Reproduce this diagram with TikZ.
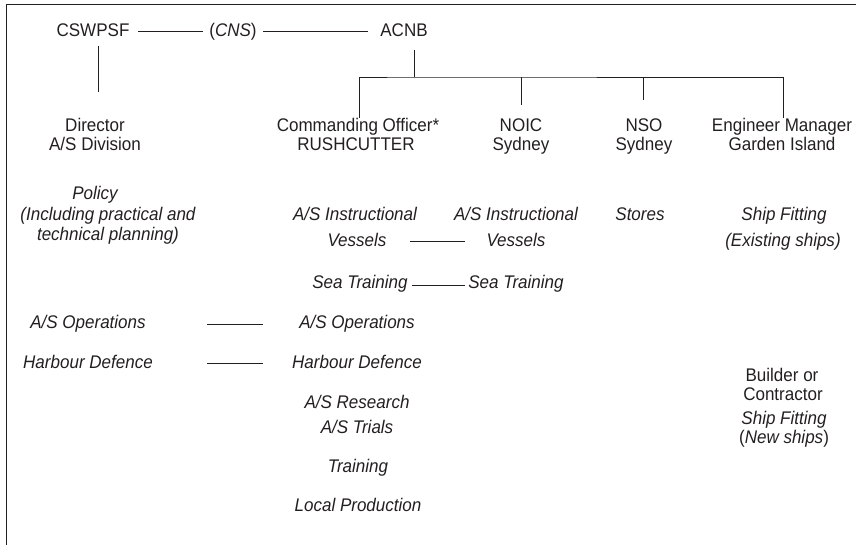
\documentclass[tikz,border=0pt]{standalone}
\usepackage{fontspec}
\setmainfont{Liberation Sans}[FakeStretch=0.93]
\definecolor{ink}{RGB}{35,31,32}
\begin{document}
\begin{tikzpicture}[x=1pt,y=-1pt,
  lbl/.style={inner sep=0pt, anchor=base, text=ink,
    font=\fontsize{18.3}{21}\selectfont},
  role/.style={lbl},
  duty/.style={lbl, font=\fontsize{18.3}{21}\selectfont\itshape},
  link/.style={draw=ink, line width=0.8pt}]
\useasboundingbox (0,0) rectangle (856,545);

% page frame (left and top rules)
\draw[link] (6.5,545) -- (6.5,4.5) -- (856,4.5);

% top line of command
\node[role] (cswpsf) at (93,36.5) {CSWPSF};
\node[role] (cns)    at (233,36.5) {(\textit{CNS})};
\node[role] (acnb)   at (404,36.5) {ACNB};

% second level
\node[role] (director)  at (95,131.3) {Director};
\node[role] (directorb) at (95,150.3) {A/S Division};
\node[role] (co)   at (358,131.3) {Commanding Officer*};
\node[role] (cob)  at (356,150.3) {RUSHCUTTER};
\node[role] (noic) at (521,131.3) {NOIC};
\node[role] (noicb) at (521,150.3) {Sydney};
\node[role] (nso)  at (644,131.3) {NSO};
\node[role] (nsob) at (644,150.3) {Sydney};
\node[role] (eng)  at (782,131.3) {Engineer Manager};
\node[role] (engb) at (782,150.3) {Garden Island};

% duties of the A/S Division
\node[duty] (policy) at (95,199.3) {Policy};
\node[duty] (plan)   at (108,220.3) {(Including practical and};
\node[duty] (planb)  at (108,240.3) {technical planning)};
\node[duty] (ops1)   at (88,328.3) {A/S Operations};
\node[duty] (hd1)    at (88,368.3) {Harbour Defence};

% duties under RUSHCUTTER
\node[duty] (inst1)  at (355,220.3) {A/S Instructional};
\node[duty] (vess1)  at (357,246.3) {Vessels};
\node[duty] (sea1)   at (360,288.3) {Sea Training};
\node[duty] (ops2)   at (357,328.3) {A/S Operations};
\node[duty] (hd2)    at (357,368.3) {Harbour Defence};
\node[duty] (res)    at (357,408.3) {A/S Research};
\node[duty] (trials) at (357,433.3) {A/S Trials};
\node[duty] (train)  at (358,472.3) {Training};
\node[duty] (local)  at (358,511.3) {Local Production};

% duties under NOIC and NSO
\node[duty] (inst2)  at (516,220.3) {A/S Instructional};
\node[duty] (vess2)  at (516,246.3) {Vessels};
\node[duty] (sea2)   at (516,288.3) {Sea Training};
\node[duty] (stores) at (640,220.3) {Stores};

% ship fitting
\node[duty] (fit)    at (784,220.3) {Ship Fitting};
\node[duty] (fitb)   at (783,246.3) {(Existing ships)};
\node[role] (build)  at (782,381.3) {Builder or};
\node[role] (buildb) at (783,400.3) {Contractor};
\node[duty] (fitn)   at (784,424.3) {Ship Fitting};
\node[role] (fitnb)  at (784,443.3) {(\textit{New ships})};

% horizontal links
\draw[link, shorten <=45pt, shorten >=30pt]
  ([yshift=5.3pt]cswpsf.base) -- ([yshift=5.3pt]cns.base);
\draw[link, shorten <=30pt, shorten >=36pt]
  ([yshift=5.3pt]cns.base) -- ([yshift=5.3pt]acnb.base);
\draw[link, shorten <=53pt, shorten >=51pt]
  ([yshift=5pt]vess1.base) -- ([yshift=5pt]vess2.base);
\draw[link, shorten <=52pt, shorten >=51pt]
  ([yshift=3.3pt]sea1.base) -- ([yshift=3.3pt]sea2.base);
\draw[link, shorten <=119pt, shorten >=94pt]
  ([yshift=4.3pt]ops1.base) -- ([yshift=4.3pt]ops2.base);
\draw[link, shorten <=119pt, shorten >=94pt]
  ([yshift=5.3pt]hd1.base) -- ([yshift=5.3pt]hd2.base);

% CSWPSF to Director
\coordinate (cdrop) at (98,46);
\draw[link, shorten >=25.5pt] (cdrop) -- (cdrop |- director.north);

% ACNB tree
\coordinate (bus) at (414,77);
\draw[link] (bus |- 0,50) -- (bus);
\draw[link] (co.north -| 359,0) |- (bus) -| (eng.north -| 783,0);
\draw[link] ([xshift=1pt]co.north |- bus) -- ([xshift=1pt,yshift=14.5pt]co.north);
\draw[link] (noic.north |- bus) -- ([yshift=13.5pt]noic.north);
\draw[link] ([xshift=-1pt]nso.north |- bus) -- ([xshift=-1pt,yshift=18.5pt]nso.north);
\draw[link] ([xshift=1pt]eng.north |- bus) -- ([xshift=1pt,yshift=14.5pt]eng.north);
\end{tikzpicture}
\end{document}
